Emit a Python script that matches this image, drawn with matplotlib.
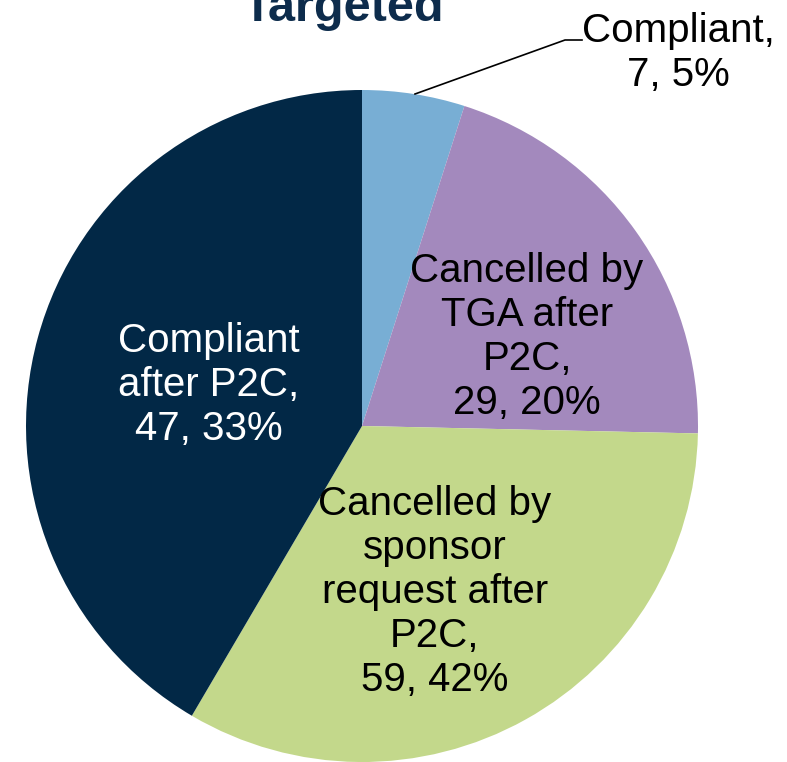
import matplotlib
matplotlib.use("Agg")
import matplotlib.pyplot as plt

# Wedge sizes as drawn in the reference (clockwise from 12 o'clock)
categories = ["Compliant", "Cancelled by TGA after P2C",
              "Cancelled by sponsor request after P2C", "Compliant after P2C"]
wedge_values = [7, 29, 47, 59]
# Label texts exactly as printed in the reference
label_texts = ["Compliant,\n7, 5%", "Cancelled by\nTGA after\nP2C,\n29, 20%",
               "Cancelled by\nsponsor\nrequest after\nP2C,\n59, 42%",
               "Compliant\nafter P2C,\n47, 33%"]
colors = ["#78AED4", "#A389BD", "#C3D88B", "#022846"]
text_colors = ["black", "black", "black", "white"]
title = "Targeted"

plt.rcParams['font.family'] = ['Liberation Sans', 'DejaVu Sans']

W, H = 787, 762
fig = plt.figure(figsize=(W / 100, H / 100), dpi=100)
ax = fig.add_axes([0, 0, 1, 1])
cx, cy, r = 362, 426, 336  # pie centre / radius in pixels


def px(x, y):
    return (x - cx) / r, (cy - y) / r


ax.pie(wedge_values, colors=colors, startangle=90, counterclock=False,
       radius=1, center=(0, 0), wedgeprops=dict(linewidth=0))
ax.set_aspect("auto")
ax.set_xlim(-cx / r, (W - cx) / r)
ax.set_ylim(-(H - cy) / r, cy / r)
ax.axis("off")

fs = 29
# in-slice labels
pos = {1: (527, 337), 2: (435, 592), 3: (209, 385)}
for i, (x, y) in pos.items():
    ax.text(*px(x, y), label_texts[i], ha="center", va="center",
            fontsize=fs, color=text_colors[i], linespacing=1.2)

# outside label with leader line
ax.text(*px(678, 53), label_texts[0], ha="center", va="center",
        fontsize=fs, color="black", linespacing=1.2)
lx, ly = zip(px(415, 94), px(565, 40), px(582, 40))
ax.plot(lx, ly, color="black", lw=1.2)

ax.text(*px(343, 21), title, ha="center", va="baseline", fontsize=35,
        fontweight="bold", color="#0D2C4C")

fig.savefig("out.png", dpi=100)
